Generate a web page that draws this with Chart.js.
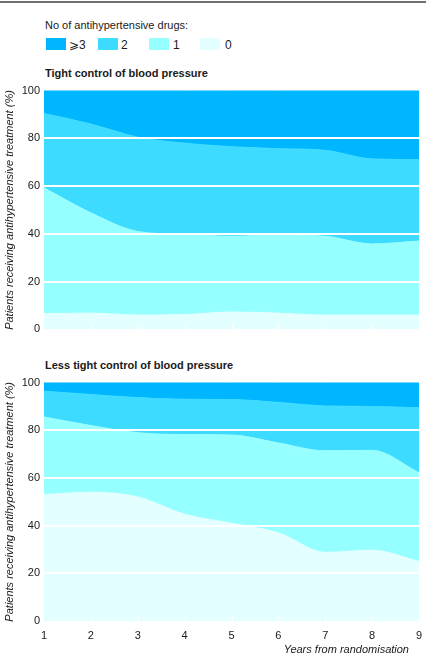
<!DOCTYPE html>
<html>
<head>
<meta charset="utf-8">
<script src="https://cdn.jsdelivr.net/npm/chart.js@4"></script>
<style>
    body {
        margin: 0;
        width: 426px;
        height: 658px;
        position: relative;
        overflow: hidden;
        background: #fff;
        color: #1a1a1a;
        font-family: 'Liberation Sans', Arial, sans-serif;
    }
    .abs { position: absolute; white-space: nowrap; }
    .rule { left: 0; top: 1px; width: 426px; height: 2px; background: #707070; }
    .legend-title { left: 45px; top: 19px; font-size: 11px; line-height: 13px; }
    .swatch { top: 38px; width: 20px; height: 12px; }
    .swatch-label { top: 38px; font-size: 12px; line-height: 14px; }
    .panel-title { left: 45px; font-size: 11px; line-height: 13px; font-weight: bold; }
    .x-title { right: 17px; top: 643px; font-size: 11px; line-height: 13px; font-style: italic; }
    canvas { position: absolute; left: 0; }
</style>
</head>
<body>
<div class="abs rule"></div>
<div class="abs legend-title">No of antihypertensive drugs:</div>
<div id="legend"></div>

<div class="abs panel-title" style="top:67px">Tight control of blood pressure</div>
<canvas id="tightChart" width="426" height="260" style="top:80px"></canvas>

<div class="abs panel-title" style="top:359px">Less tight control of blood pressure</div>
<canvas id="lessChart" width="426" height="286" style="top:372px"></canvas>

<div class="abs x-title">Years from randomisation</div>

<script>
// ============================================
// DATA
// ============================================
const years = [1, 2, 3, 4, 5, 6, 7, 8, 9];
const yTicks = [0, 20, 40, 60, 80, 100];
const drugLabels = ['0', '1', '2', '\u2A7E3'];

// Tight control - % of patients on 0 / 1 / 2 / >=3 drugs
const tightNone  = [6.6, 6.8, 6.0, 6.2, 7.3, 6.8, 6.0, 6.0, 6.0];
const tightOne   = [52.7, 42.0, 35.0, 33.6, 31.7, 32.7, 33.0, 29.8, 31.0];
const tightTwo   = [31.1, 37.2, 39.5, 38.2, 37.5, 36.2, 36.0, 35.6, 34.1];
const tightThree = [9.6, 14.0, 19.5, 22.0, 23.5, 24.3, 25.0, 28.6, 28.9];

// Less tight control
const lessNone  = [53.0, 54.0, 52.0, 44.8, 41.0, 37.0, 28.8, 29.7, 25.0];
const lessOne   = [32.6, 28.0, 27.0, 33.4, 37.0, 37.7, 42.6, 41.9, 37.2];
const lessTwo   = [10.8, 13.0, 14.7, 14.8, 14.9, 17.0, 18.8, 18.4, 27.2];
const lessThree = [3.6, 5.0, 6.3, 7.0, 7.1, 8.3, 9.8, 10.0, 10.6];

// ============================================
// STYLE
// ============================================
const drugColors = ['#e4ffff', '#96ffff', '#3ddbff', '#00b7ff'];
const FONT = "'Liberation Sans', Arial, sans-serif";
const TEXT = '#1a1a1a';
const Y_TITLE = 'Patients receiving antihypertensive treatment (%)';

// legend swatches (largest count first, like the original)
const legendPos = [{ sw: 200, lb: 225 }, { sw: 149, lb: 173 }, { sw: 98, lb: 121 }, { sw: 46, lb: 69 }];
const legendEl = document.getElementById('legend');
drugLabels.forEach((lbl, i) => {
    const sw = document.createElement('div');
    sw.className = 'abs swatch';
    sw.style.left = legendPos[i].sw + 'px';
    sw.style.background = drugColors[i];
    legendEl.appendChild(sw);

    const tx = document.createElement('div');
    tx.className = 'abs swatch-label';
    tx.style.left = legendPos[i].lb + 'px';
    tx.textContent = lbl;
    legendEl.appendChild(tx);
});

// small white year ticks inside the plot, along the bottom edge
const innerTicks = {
    id: 'innerTicks',
    afterDatasetsDraw(chart) {
        const { ctx, chartArea, scales: { x } } = chart;
        ctx.save();
        ctx.strokeStyle = '#ffffff';
        ctx.lineWidth = 1;
        x.ticks.forEach((t, i) => {
            if (i === 0 || i === x.ticks.length - 1) return;
            const px = Math.round(x.getPixelForTick(i)) + 0.5;
            ctx.beginPath();
            ctx.moveTo(px, chartArea.bottom);
            ctx.lineTo(px, chartArea.bottom - 5);
            ctx.stroke();
        });
        ctx.restore();
    }
};

function buildDatasets(series) {
    return series.map((data, i) => ({
        label: drugLabels[i],
        data: data,
        backgroundColor: drugColors[i],
        borderColor: drugColors[i],
        borderWidth: 1,
        pointRadius: 0,
        fill: i === 0 ? 'origin' : '-1',
        cubicInterpolationMode: 'monotone'
    }));
}

function makeChart(canvasId, series, showX) {
    const ctx = document.getElementById(canvasId);
    return new Chart(ctx.getContext('2d'), {
        type: 'line',
        data: { labels: years, datasets: buildDatasets(series) },
        options: {
            responsive: false,
            animation: false,
            layout: { padding: { top: 10, right: 7, bottom: showX ? 0 : 10, left: 0 } },
            plugins: { legend: { display: false }, tooltip: { enabled: false } },
            scales: {
                x: {
                    type: 'category',
                    offset: false,
                    grid: { display: false },
                    border: { display: false },
                    ticks: {
                        display: showX,
                        maxRotation: 0,
                        padding: 0,
                        color: TEXT,
                        font: { family: FONT, size: 11 }
                    },
                    afterFit: (scale) => { scale.height = showX ? 37 : 0; }
                },
                y: {
                    stacked: true,
                    min: 0,
                    max: 100,
                    afterBuildTicks: (scale) => { scale.ticks = yTicks.map(v => ({ value: v })); },
                    afterFit: (scale) => { scale.width = 44; },
                    grid: {
                        z: 1,
                        lineWidth: 2,
                        drawTicks: false,
                        color: (c) => (c.tick && c.tick.value > 0 && c.tick.value < 100) ? '#ffffff' : 'rgba(255,255,255,0)'
                    },
                    border: { display: false },
                    ticks: {
                        padding: 4,
                        color: TEXT,
                        font: { family: FONT, size: 11 }
                    },
                    title: {
                        display: true,
                        text: Y_TITLE,
                        color: TEXT,
                        padding: { top: 3, bottom: 0 },
                        font: { family: FONT, size: 11, style: 'italic' }
                    }
                }
            }
        },
        plugins: [innerTicks]
    });
}

makeChart('tightChart', [tightNone, tightOne, tightTwo, tightThree], false);
makeChart('lessChart', [lessNone, lessOne, lessTwo, lessThree], true);
</script>
</body>
</html>
